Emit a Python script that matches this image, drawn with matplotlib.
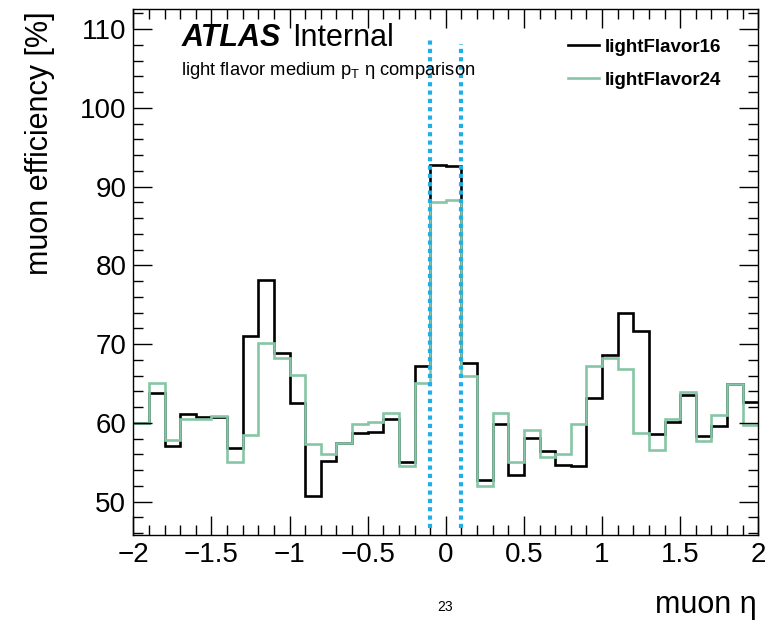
import numpy as np
import matplotlib
matplotlib.use("Agg")
import matplotlib.pyplot as plt
from matplotlib.ticker import MultipleLocator

plt.rcParams["font.family"] = ["Liberation Sans", "DejaVu Sans"]
plt.rcParams["mathtext.fontset"] = "custom"
plt.rcParams["mathtext.rm"] = "Liberation Sans"

# bin edges in muon eta (40 bins of 0.1)
eta_edges = np.linspace(-2.0, 2.0, 41)

# efficiency [%] per bin
light_flavor_16 = [
    60.0, 63.8, 57.1, 61.1, 60.8, 60.8, 56.8, 71.0, 78.1, 68.9,
    62.5, 50.7, 55.2, 57.5, 58.7, 58.9, 60.5, 55.1, 67.2, 92.8,
    92.6, 67.6, 52.8, 59.9, 53.4, 58.1, 56.4, 54.7, 54.5, 63.1,
    68.6, 73.9, 71.7, 58.6, 60.1, 63.6, 58.3, 59.6, 64.9, 62.7,
]
light_flavor_24 = [
    60.0, 65.1, 57.8, 60.5, 60.5, 60.9, 55.1, 58.5, 70.1, 68.3,
    66.1, 57.3, 56.0, 57.4, 59.8, 60.1, 61.3, 54.5, 65.1, 88.0,
    88.3, 65.9, 52.0, 61.2, 55.0, 59.1, 55.7, 56.0, 59.9, 67.2,
    68.2, 66.9, 58.7, 56.5, 60.5, 63.9, 57.7, 61.0, 64.9, 59.7,
]

# region boundaries (dotted lines): x, y_low, y_high
cut_x = [-0.1, 0.1]
cut_ylo = [46.7, 46.7]
cut_yhi = [109.0, 108.1]

BLACK = "#000000"
GREEN = "#86c6a6"
BLUE = "#1eaee8"

fig = plt.figure(figsize=(7.66, 6.23), dpi=100)
ax = fig.add_axes([133.3 / 766, 1 - 535 / 623, 625 / 766, 526 / 623])

ax.stairs(light_flavor_16, eta_edges, color=BLACK, lw=1.9, baseline=None,
          label="lightFlavor16")
ax.stairs(light_flavor_24, eta_edges, color=GREEN, lw=1.9, baseline=None,
          label="lightFlavor24")

for x, lo, hi in zip(cut_x, cut_ylo, cut_yhi):
    ax.plot([x, x], [lo, hi], color=BLUE, lw=3.0, ls=(0, (1.0, 1.0)),
            solid_capstyle="butt", dash_capstyle="butt")

ax.set_xlim(-2.0, 2.0)
ax.set_ylim(45.77, 112.54)

ax.xaxis.set_major_locator(MultipleLocator(0.5))
ax.xaxis.set_minor_locator(MultipleLocator(0.1))
ax.yaxis.set_major_locator(MultipleLocator(10))
ax.yaxis.set_minor_locator(MultipleLocator(2))
ax.xaxis.set_major_formatter(plt.FuncFormatter(
    lambda v, p: ("%g" % v).replace("-", "\u2212")))

ax.tick_params(which="both", direction="in", top=True, right=True,
               labelsize=20, width=1.0)
ax.tick_params(which="major", length=14, pad=5)
ax.tick_params(which="minor", length=7)
for s in ax.spines.values():
    s.set_linewidth(1.0)

leg = ax.legend(loc="upper left", bbox_to_anchor=(0.695, 0.9435),
                frameon=False, handlelength=1.65, handletextpad=0.35,
                labelspacing=0.85, borderpad=0, borderaxespad=0,
                prop={"weight": "bold", "size": 13.5})

fig.text(182 / 766, 1 - 46 / 623, "ATLAS", fontsize=22, fontweight="bold",
         fontstyle="italic", va="baseline", ha="left")
fig.text(292 / 766, 1 - 46 / 623, "Internal", fontsize=22,
         va="baseline", ha="left")
fig.text(181 / 766, 1 - 75 / 623,
         "light flavor medium $\\mathrm{p}_{\\mathrm{T}}$ \u03b7 comparison",
         fontsize=13.2, va="baseline", ha="left")

fig.text(40 / 766, 1 - 11 / 623, "muon efficiency [%]", fontsize=22,
         rotation=90, ha="center", va="top")
fig.text(757 / 766, 1 - 605 / 623, "muon \u03b7", fontsize=22,
         ha="right", va="center")
fig.text(445 / 766, 1 - 607 / 623, "23", fontsize=10, ha="center",
         va="center")

fig.savefig("out.png", dpi=100)
